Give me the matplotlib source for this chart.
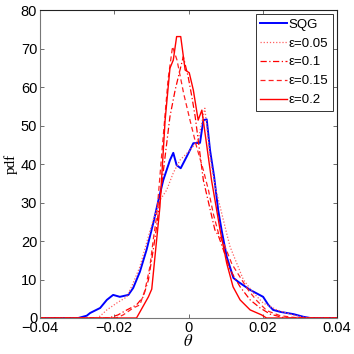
import matplotlib.pyplot as plt

# SQG reference pdf
sqg_x = [-0.04, -0.0297, -0.0274, -0.0265, -0.0238, -0.0220, -0.0203, -0.0185, -0.0162,
         -0.0149, -0.0131, -0.0113, -0.0095, -0.0081, -0.0068, -0.0050, -0.0041, -0.0032,
         -0.0021, -0.0005, 0.0013, 0.0031, 0.0040, 0.0049, 0.0058, 0.0069, 0.0080, 0.0089,
         0.0103, 0.0121, 0.0134, 0.0166, 0.0201, 0.0215, 0.0228, 0.0247, 0.0283, 0.0310,
         0.0328, 0.04]
sqg_y = [0, 0, 0.6, 1.3, 2.6, 4.7, 6.0, 5.5, 6.0,
         7.8, 12.0, 17.7, 24.6, 30.6, 35.8, 41.0, 42.9, 39.7,
         38.9, 41.9, 45.4, 45.5, 51.4, 51.6, 43.6, 36.7, 28.0, 22.9,
         15.9, 10.4, 9.4, 7.3, 5.5, 3.4, 2.1, 1.6, 1.0, 0.3,
         0, 0]

# eps = 0.05
e05_x = [-0.04, -0.0250, -0.0238, -0.0220, -0.0193, -0.0166, -0.0149, -0.0131, -0.0113,
         -0.0095, -0.0077, -0.0059, -0.0041, -0.0023, 0.0004, 0.0026, 0.0044, 0.0058,
         0.0072, 0.0090, 0.0103, 0.0112, 0.0130, 0.0148, 0.0175, 0.0201, 0.0238, 0.0280,
         0.0310, 0.0330, 0.04]
e05_y = [0, 0, 0.5, 2.1, 3.9, 5.5, 9.1, 13.3, 19.5,
         25.5, 30.6, 33.2, 37.7, 41.0, 43.6, 46.2, 54.5, 41.8,
         34.0, 27.0, 21.9, 18.5, 14.2, 9.9, 6.5, 3.9, 2.1, 0.8,
         0.2, 0, 0]

# eps = 0.1
e10_x = [-0.04, -0.0215, -0.0190, -0.0166, -0.0140, -0.0122, -0.0108, -0.0095, -0.0086,
         -0.0068, -0.0050, -0.0036, -0.0023, -0.0014, -0.0001, 0.0009, 0.0018, 0.0040,
         0.0071, 0.0080, 0.0094, 0.0112, 0.0139, 0.0166, 0.0193, 0.0220, 0.0260, 0.04]
e10_y = [0, 0, 0.8, 2.1, 3.4, 5.5, 9.9, 17.7, 23.7,
         38.0, 52.3, 59.2, 64.4, 67.9, 62.7, 57.5, 52.3, 35.8,
         22.9, 21.5, 17.7, 12.5, 8.1, 4.7, 2.6, 1.0, 0, 0]

# eps = 0.15
e15_x = [-0.04, -0.0195, -0.0176, -0.0149, -0.0131, -0.0117, -0.0104, -0.0095, -0.0086,
         -0.0070, -0.0055, -0.0043, -0.0031, -0.0013, 0.0004, 0.0022, 0.0040, 0.0054,
         0.0067, 0.0081, 0.0099, 0.0117, 0.0139, 0.0162, 0.0184, 0.0211, 0.0247, 0.0280,
         0.0300, 0.04]
e15_y = [0, 0, 0.8, 2.6, 3.4, 7.3, 13.3, 20.3, 26.3,
         45.0, 62.0, 70.5, 67.0, 58.3, 51.4, 44.4, 38.4, 33.1,
         27.0, 21.9, 18.4, 14.0, 10.6, 7.1, 4.5, 1.9, 0.6, 0.2,
         0, 0]

# eps = 0.2
e20_x = [-0.04, -0.0140, -0.0108, -0.0099, -0.0077, -0.0063, -0.0050, -0.0041, -0.0032,
         -0.0021, -0.0009, 0.0002, 0.0013, 0.0026, 0.0036, 0.0062, 0.0076, 0.0085,
         0.0103, 0.0120, 0.0139, 0.0166, 0.0197, 0.0210, 0.04]
e20_y = [0, 0, 5.5, 7.5, 28.9, 51.4, 64.9, 67.0, 73.1,
         73.1, 64.4, 63.7, 59.2, 51.4, 54.0, 35.8, 28.0, 22.9,
         14.2, 8.1, 4.7, 2.1, 0.8, 0, 0]

plt.rcParams['mathtext.fontset'] = 'stix'
plt.rcParams['font.family'] = ['Liberation Sans', 'DejaVu Sans']
plt.rcParams['axes.unicode_minus'] = True

fig = plt.figure(figsize=(3.54, 3.54), dpi=100)
ax = fig.add_axes([0.113, 0.1017, 0.839, 0.870])

ax.plot(sqg_x, sqg_y, color='#0000ff', lw=1.4, label='SQG')
ax.plot(e05_x, e05_y, color='#ff6060', lw=0.9, ls=(0, (1, 1.5)), label='ε=0.05')
ax.plot(e10_x, e10_y, color='#ff0000', lw=0.9, ls=(0, (5, 2, 1, 2)), label='ε=0.1')
ax.plot(e15_x, e15_y, color='#ff2020', lw=0.9, ls=(0, (4, 2.5)), label='ε=0.15')
ax.plot(e20_x, e20_y, color='#ff0000', lw=1.0, label='ε=0.2')

ax.set_xlim(-0.04, 0.04)
ax.set_ylim(0, 80)
ax.set_xticks([-0.04, -0.02, 0, 0.02, 0.04])
ax.set_xticklabels(['−0.04', '−0.02', '0', '0.02', '0.04'])
ax.set_yticks(range(0, 81, 10))
ax.tick_params(direction='in', top=True, right=True, labelsize=10.5, length=3,
               width=0.6, color='#555555')
ax.tick_params(axis='x', pad=2)
ax.tick_params(axis='y', pad=2)
for side, s in ax.spines.items():
    s.set_linewidth(0.8)
    s.set_color('#777777' if side in ('left', 'bottom') else '#222222')

ax.set_xlabel(r'$\theta$', fontsize=12, labelpad=-1)
ax.set_ylabel('pdf', family='Liberation Serif', fontsize=11, labelpad=2)

leg = ax.legend(loc='upper right', fontsize=9.5, fancybox=False, framealpha=1,
                edgecolor='#333333', handlelength=2.0, handletextpad=0.15,
                borderpad=0.35, labelspacing=0.5, borderaxespad=0.3)
leg.get_frame().set_linewidth(0.7)

fig.savefig('out.png', dpi=100)
